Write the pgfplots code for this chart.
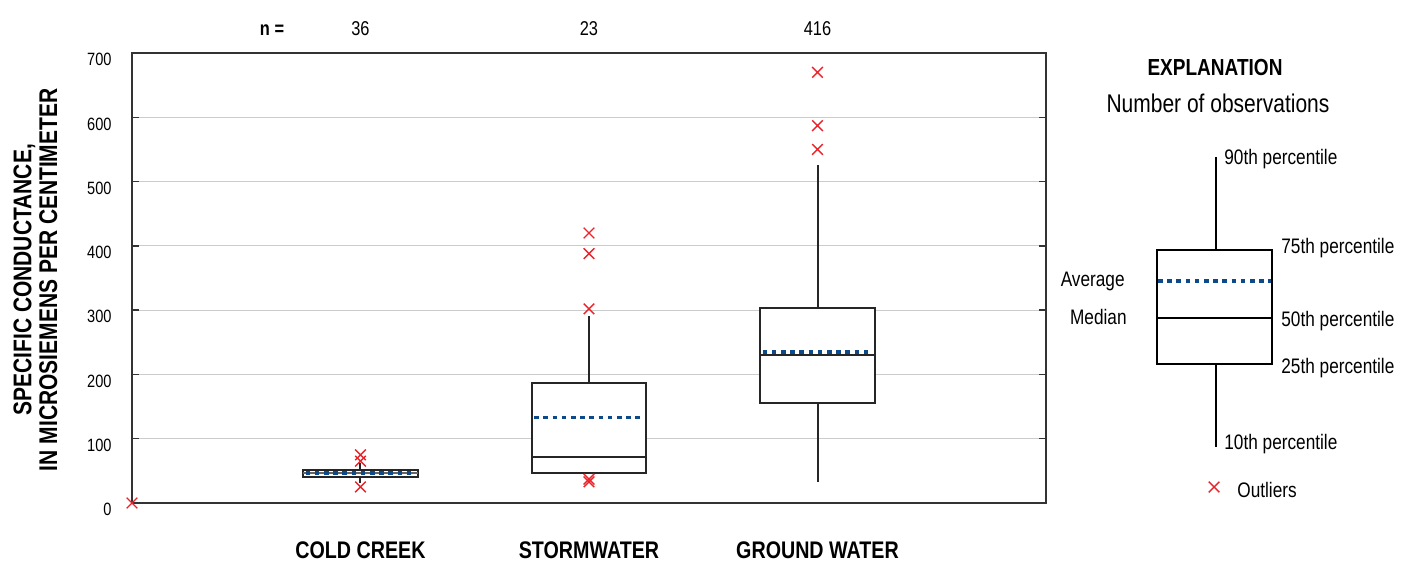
\documentclass[border=0pt]{standalone}
\usepackage{pgfplots}
\pgfplotsset{compat=1.18}
\usepackage{fontspec}
\setmainfont[FakeStretch=0.82]{Liberation Sans}
\definecolor{outred}{HTML}{E8232A}
\definecolor{meanblue}{HTML}{0D4A8A}
\newcommand{\fs}[1]{\fontsize{#1}{#1}\selectfont}
\begin{document}
\begin{tikzpicture}
\useasboundingbox (-66pt,-30pt) rectangle (635pt,251.5pt);
\begin{axis}[
  at={(0pt,0pt)}, anchor=south west,
  scale only axis, width=457pt, height=225pt,
  xmin=0, xmax=4, ymin=0, ymax=700,
  xtick={1,2,3}, xticklabels={COLD CREEK,STORMWATER,GROUND WATER},
  x tick style={draw=none},
  xticklabel style={font=\bfseries\fs{12pt}, anchor=base, yshift=-27.5pt},
  ytick={0,100,...,700},
  tick pos=both, yticklabel pos=left, xticklabel pos=lower,
  tick align=inside, major tick length=3.5pt,
  y tick style={black!80, line width=0.7pt},
  yticklabel style={font=\fs{8.9pt}, anchor=north east, inner sep=0pt, xshift=-10pt},
  /pgf/number format/assume math mode=true,
  ymajorgrids, grid style={color=black!20, line width=0.6pt},
  axis line style={black!80, line width=0.8pt},
  ylabel={SPECIFIC CONDUCTANCE,\\IN MICROSIEMENS PER CENTIMETER},
  ylabel style={font=\bfseries\fs{12.8pt}, align=center, at={(axis description cs:-0.1056,0.496)}, anchor=center, inner sep=0pt},
  clip=false,
]
% whiskers
\addplot[black!85, line width=1pt] coordinates {(1,52) (1,62)};
\addplot[black!85, line width=1pt] coordinates {(1,40) (1,31)};
\addplot[black!85, line width=1pt] coordinates {(2,186) (2,291)};
\addplot[black!85, line width=1pt] coordinates {(3,304) (3,526)};
\addplot[black!85, line width=1pt] coordinates {(3,156) (3,32)};
% boxes
\addplot[draw=black!85, fill=white, line width=1pt] coordinates {(0.75,40) (1.25,40) (1.25,52) (0.75,52)} -- cycle;
\addplot[draw=black!85, fill=white, line width=1pt] coordinates {(1.75,46) (2.25,46) (2.25,186) (1.75,186)} -- cycle;
\addplot[draw=black!85, fill=white, line width=1pt] coordinates {(2.75,156) (3.25,156) (3.25,304) (2.75,304)} -- cycle;
% medians
\addplot[black!60, line width=0.8pt] coordinates {(0.75,46.5) (1.25,46.5)};
\addplot[black!85, line width=1pt] coordinates {(1.75,71) (2.25,71)};
\addplot[black!85, line width=1pt] coordinates {(2.75,231) (3.25,231)};
% means
\addplot[meanblue, line width=1.8pt, dash pattern=on 2.3pt off 2.3pt] coordinates {(0.76,47) (1.24,47)};
\addplot[meanblue, line width=1.8pt, dash pattern=on 2.3pt off 2.3pt] coordinates {(1.76,133) (2.24,133)};
\addplot[meanblue, line width=1.8pt, dash pattern=on 2.3pt off 2.3pt] coordinates {(2.76,235) (3.24,235)};
% outliers
\addplot[only marks, mark=x, mark size=3.75pt, outred, mark options={line width=0.7pt}] coordinates {
  (0,0)
  (1,75) (1,65) (1,25)
  (2,420) (2,388) (2,302) (2,37) (2,33)
  (3,670) (3,587) (3,550)
};
% n labels
\node[font=\bfseries\fs{10pt}, anchor=base] at (axis cs:0.613,728) {n =};
\node[font=\fs{10pt}, anchor=base] at (axis cs:1,728) {36};
\node[font=\fs{10pt}, anchor=base] at (axis cs:2,728) {23};
\node[font=\fs{10pt}, anchor=base] at (axis cs:3,728) {416};
\end{axis}
% explanation
\begin{axis}[
  at={(457pt,-30pt)}, anchor=south west,
  scale only axis, width=178pt, height=281.5pt,
  xmin=1046, xmax=1402, ymin=0, ymax=563,
  axis lines=none, clip=false,
]
\addplot[black, line width=1pt] coordinates {(1216,406) (1216,313)};
\addplot[black, line width=1pt] coordinates {(1216,199) (1216,116)};
\addplot[draw=black, fill=white, line width=1pt] coordinates {(1157,199) (1272,199) (1272,313) (1157,313)} -- cycle;
\addplot[black, line width=0.9pt] coordinates {(1157,245) (1272,245)};
\addplot[meanblue, line width=1.8pt, dash pattern=on 2.3pt off 2.3pt] coordinates {(1158,282) (1271,282)};
\addplot[only marks, mark=x, mark size=3.75pt, outred, mark options={line width=0.7pt}] coordinates {(1214,76)};
\node[font=\bfseries\fs{11.6pt}, anchor=base] at (axis cs:1215,487) {EXPLANATION};
\node[font=\fs{12.8pt}, anchor=base] at (axis cs:1218,450) {Number of observations};
\node[font=\fs{10.5pt}, anchor=base west, inner sep=0pt] at (axis cs:1224,398) {90th percentile};
\node[font=\fs{10.5pt}, anchor=base west, inner sep=0pt] at (axis cs:1281,309) {75th percentile};
\node[font=\fs{10.5pt}, anchor=base west, inner sep=0pt] at (axis cs:1281,237) {50th percentile};
\node[font=\fs{10.5pt}, anchor=base west, inner sep=0pt] at (axis cs:1281,190) {25th percentile};
\node[font=\fs{10.5pt}, anchor=base west, inner sep=0pt] at (axis cs:1224,114) {10th percentile};
\node[font=\fs{10.5pt}, anchor=base east, inner sep=0pt] at (axis cs:1125,277) {Average};
\node[font=\fs{10.5pt}, anchor=base east, inner sep=0pt] at (axis cs:1127,239) {Median};
\node[font=\fs{10.5pt}, anchor=base west, inner sep=0pt] at (axis cs:1237,66) {Outliers};
\end{axis}
\end{tikzpicture}
\end{document}
